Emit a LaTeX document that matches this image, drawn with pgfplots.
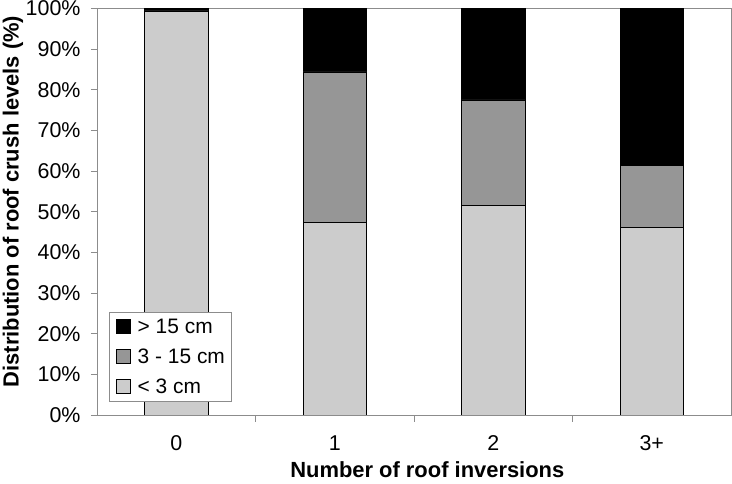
\documentclass[border=0pt]{standalone}
\usepackage{fontspec}
\setmainfont{Liberation Sans}
\usepackage{pgfplots}
\pgfplotsset{compat=1.18}
\definecolor{lightg}{HTML}{CCCCCC}
\definecolor{midg}{HTML}{969696}
\definecolor{axg}{HTML}{8C8C8C}
\begin{document}
\begin{tikzpicture}
\begin{axis}[
  name=ax,
  scale only axis, width=634bp, height=406.5bp,
  ybar stacked, bar width=63.4bp,
  xmin=-0.5, xmax=3.5, ymin=0, ymax=100,
  xtick={0,1,2,3}, xticklabels={0,1,2,3+},
  minor xtick={0.5,1.5,2.5},
  ytick={0,10,...,100},
  yticklabel={\pgfmathprintnumber{\tick}\%},
  /pgf/number format/assume math mode=true,
  tick align=outside,
  major tick length=6bp, minor tick length=7bp,
  major x tick style={draw=none},
  tick pos=left,
  axis line style={axg, line width=0.8bp},
  every tick/.style={axg, line width=0.8bp},
  tick label style={font=\fontsize{21.5}{25}\selectfont, black},
  xticklabel style={yshift=-11bp},
  yticklabel style={xshift=-7bp},
  xlabel={\bfseries Number of roof inversions},
  ylabel={\bfseries Distribution of roof crush levels (\%)},
  label style={font=\fontsize{22}{26}\selectfont},
  xlabel style={at={(axis description cs:0.521,-0.1353)}, anchor=center},
  ylabel style={at={(axis description cs:-0.1325,0.525)}, anchor=center, rotate=0},
  legend style={at={(0.019,0.033)}, anchor=south west, draw=axg, line width=0.8bp,
    font=\fontsize{21}{25}\selectfont, inner xsep=4.5bp, inner ysep=4.5bp,
    row sep=10bp, cells={anchor=west}},
  legend image code/.code={\draw[#1, draw=black, line width=0.8bp] (2bp,-7bp) rectangle (16bp,7bp);
     \path (0bp,0bp) (21bp,0bp);},
  reverse legend,
]
\addplot[fill=lightg, draw=black, line width=0.8bp] coordinates {(0,99.4) (1,47.4) (2,51.6) (3,46.1)};
\addlegendentry{< 3 cm}
\addplot[fill=midg, draw=black, line width=0.8bp] coordinates {(0,0.2) (1,37.0) (2,25.9) (3,15.4)};
\addlegendentry{3 - 15 cm}
\addplot[fill=black, draw=black, line width=0.8bp] coordinates {(0,0.4) (1,15.6) (2,22.5) (3,38.5)};
\addlegendentry{> 15 cm}
\end{axis}
\pgfresetboundingbox
\path ([shift={(-97bp,-69bp)}]ax.south west) rectangle ([shift={(1bp,8.5bp)}]ax.north east);
\end{tikzpicture}
\end{document}
